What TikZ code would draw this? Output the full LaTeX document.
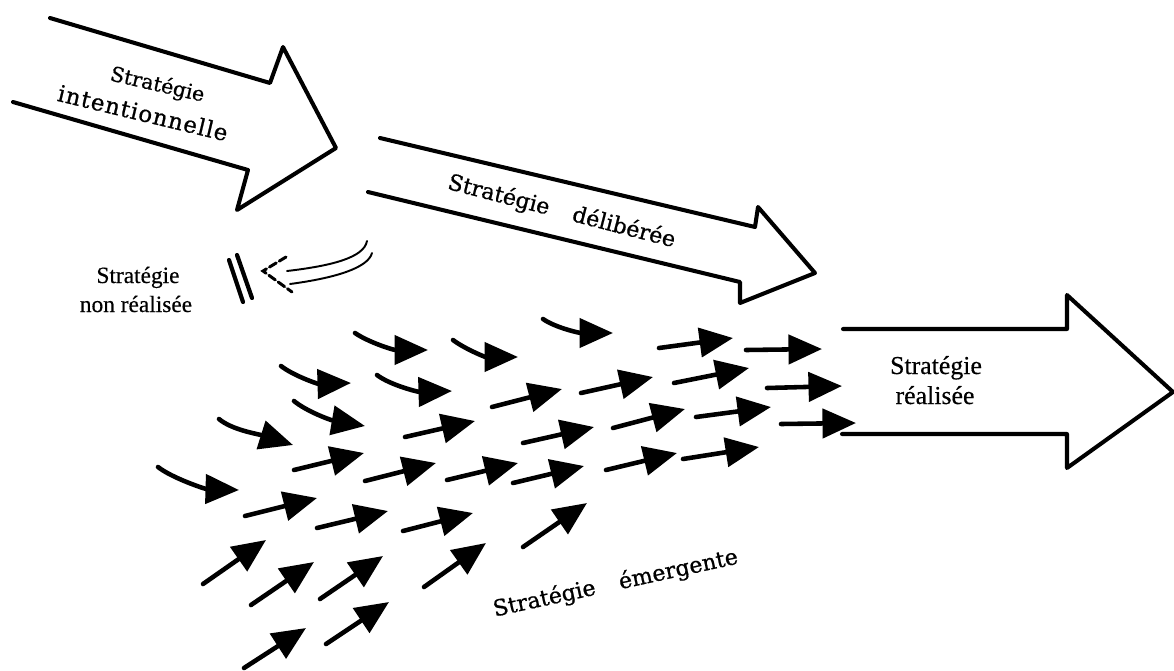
\documentclass[tikz,border=0pt]{standalone}
\usepackage{fontspec}
\setmainfont[FakeBold=0.4]{Liberation Serif}
\newfontfamily\labelfont[FakeBold=0.8]{DejaVu Serif}
\usetikzlibrary{arrows.meta}

\tikzset{
  bigarrow/.style={line width=2.3pt, line join=round, line cap=round},
  flow/.style={line width=2.6pt, line cap=round,
    -{Triangle[length=0.67cm,width=0.58cm]}},
  thinstroke/.style={line width=1.1pt, line cap=round},
  brokenhead/.style={line width=1.7pt, line cap=round, dash pattern=on 4.5pt off 2pt},
  bars/.style={line width=2.4pt, line cap=round},
  slanted/.style={font=\labelfont\fontsize{12.6}{15}\selectfont, inner sep=0pt},
  plain/.style={inner sep=0pt},
}

\begin{document}
\begin{tikzpicture}[x=0.02cm,y=-0.02cm]
\useasboundingbox (0,0) rectangle (1174,670);

% intended strategy
\draw[bigarrow] (50,18) -- (270,83) -- (283,47) -- (336,148)
  -- (237,210) -- (248,170) -- (13,102);
% deliberate strategy
\draw[bigarrow] (380,138) -- (755,227) -- (758,207) -- (815,273)
  -- (740,303) -- (740,282) -- (368,192);
% realized strategy
\draw[bigarrow] (843,329) -- (1067,329) -- (1067,295) -- (1173,392)
  -- (1067,468) -- (1067,434) -- (842,434);

% unrealized strategy: curved hollow arrow stopped by a double bar
\draw[bars] (229,260) -- (243,302);
\draw[bars] (237,255) -- (252,298);
\draw[thinstroke] (367,241) .. controls (364,258) and (330,266) .. (287,271);
\draw[thinstroke] (372,253) .. controls (368,268) and (335,278) .. (290,284);
\draw[brokenhead] (286,257) -- (263,271) -- (292,292);

% emergent strategy: curved arrows
\draw[flow] (355,333) .. controls (368,342) and (393,350) .. (428,350);
\draw[flow] (453,340) .. controls (465,349) and (485,357) .. (518,357);
\draw[flow] (543,319) .. controls (556,328) and (580,333) .. (613,333);
\draw[flow] (281,366) .. controls (294,376) and (318,384) .. (351,383);
\draw[flow] (377,375) .. controls (390,385) and (418,392) .. (452,391);
\draw[flow] (294,401) .. controls (306,411) and (330,420) .. (365,426);
\draw[flow] (219,419) .. controls (232,430) and (258,434) .. (293,445);
\draw[flow] (158,467) .. controls (172,478) and (205,489) .. (239,490);

% emergent strategy: straight arrows
\draw[flow] (659,348) -- (733,338);
\draw[flow] (746,350) -- (822,349);
\draw[flow] (492,407) -- (562,389);
\draw[flow] (581,393) -- (653,377);
\draw[flow] (674,383) -- (749,368);
\draw[flow] (767,388) -- (842,386);
\draw[flow] (405,437) -- (475,421);
\draw[flow] (523,443) -- (594,427);
\draw[flow] (613,428) -- (685,409);
\draw[flow] (696,417) -- (771,407);
\draw[flow] (781,424) -- (856,423);
\draw[flow] (294,470) -- (364,453);
\draw[flow] (365,481) -- (436,463);
\draw[flow] (447,480) -- (518,463);
\draw[flow] (513,483) -- (584,466);
\draw[flow] (606,470) -- (677,453);
\draw[flow] (683,459) -- (759,447);
\draw[flow] (245,516) -- (317,498);
\draw[flow] (317,528) -- (388,511);
\draw[flow] (403,531) -- (473,513);

% emergent strategy: rising arrows
\draw[flow] (203,584) -- (266,540);
\draw[flow] (251,605) -- (314,562);
\draw[flow] (320,599) -- (383,556);
\draw[flow] (424,587) -- (486,543);
\draw[flow] (523,547) -- (587,503);
\draw[flow] (244,668) -- (306,628);
\draw[flow] (326,644) -- (389,602);

% labels
\node[slanted, font=\labelfont\fontsize{11.6}{14}\selectfont,
  rotate=-13, anchor=base] (intA) at (156,91) {Stratégie};
\node[plain, font={\labelfont\addfontfeature{LetterSpace=4.5}\fontsize{13}{15}\selectfont},
  rotate=-13.5, anchor=base] (intB) at (141,121) {intentionnelle};
\node[slanted, rotate=-14.5, anchor=base] (delib) at (560,218)
  {Stratégie\hspace{1.1em}délibérée};
\node[slanted, rotate=12.3, anchor=base] (emerg) at (617,590)
  {Stratégie\hspace{1.1em}émergente};
\node[plain, font=\fontsize{14.7}{17}\selectfont, anchor=base] (realA) at (936,374) {Stratégie};
\node[plain, font=\fontsize{14.7}{17}\selectfont, anchor=base] (realB) at (935,404) {réalisée};
\node[plain, font=\fontsize{13.3}{16}\selectfont, anchor=base] (nrA) at (138,283) {Stratégie};
\node[plain, font=\fontsize{13.3}{16}\selectfont, anchor=base] (nrB) at (136,312) {non réalisée};
\end{tikzpicture}
\end{document}
